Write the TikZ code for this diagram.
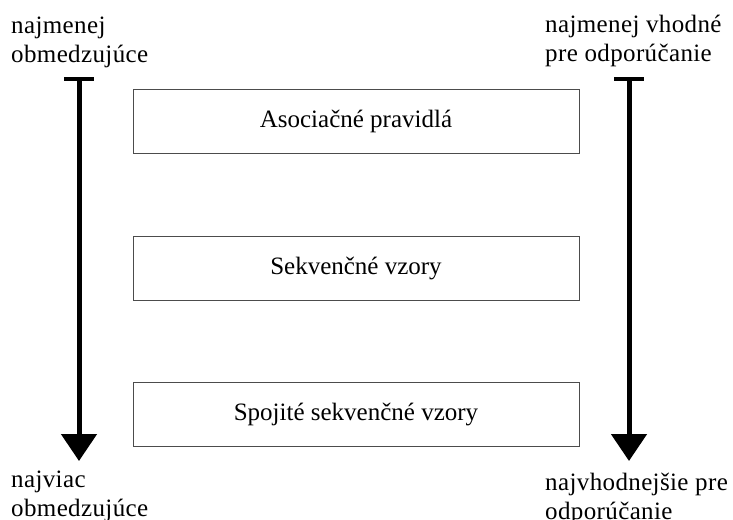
\documentclass[tikz,border=0pt]{standalone}
\usepackage{fontspec}
\setmainfont{Liberation Serif}
\newfontfamily\labelfont[LetterSpace=1.5]{Liberation Serif}
\usetikzlibrary{arrows.meta}
\begin{document}
\begin{tikzpicture}[x=1pt,y=-1pt,
  catbox/.style={draw=black!70,line width=1pt,minimum width=446pt,minimum height=64pt,inner sep=0pt,
    font=\fontsize{25}{29}\selectfont},
  sidelabel/.style={inner sep=0pt,align=left,font=\labelfont\fontsize{25}{29}\selectfont},
  scalearrow/.style={line width=5pt,{Bar[width=30pt,line width=4pt]}-{Triangle[width=35pt,length=27pt]}}]
\useasboundingbox (0,0) rectangle (733,519);
% the three pattern types
\node[catbox] (assoc) at (356,121) {Asociačné pravidlá};
\node[catbox] (seq)   at (356,268.5) {Sekvenčné vzory};
\node[catbox] (cont)  at (356,414.5) {Spojité sekvenčné vzory};
% scale arrows on both sides
\coordinate (ltop) at (79,77);
\coordinate (lbot) at (79,461);
\coordinate (rtop) at (629,77);
\coordinate (rbot) at (629,461);
\draw[scalearrow] (ltop) -- (lbot);
\draw[scalearrow] (rtop) -- (rbot);
% end labels (anchored at the baseline of their last line)
\node[sidelabel,anchor=base west] (ltoptxt) at (11,63) {najmenej\\obmedzujúce};
\node[sidelabel,anchor=base west] (rtoptxt) at (545,62) {najmenej vhodné\\pre odporúčanie};
\node[sidelabel,anchor=base west] (lbottxt) at (11,516) {najviac\\obmedzujúce};
\node[sidelabel,anchor=base west] (rbottxt) at (545,519) {najvhodnejšie pre\\odporúčanie};
\end{tikzpicture}
\end{document}
